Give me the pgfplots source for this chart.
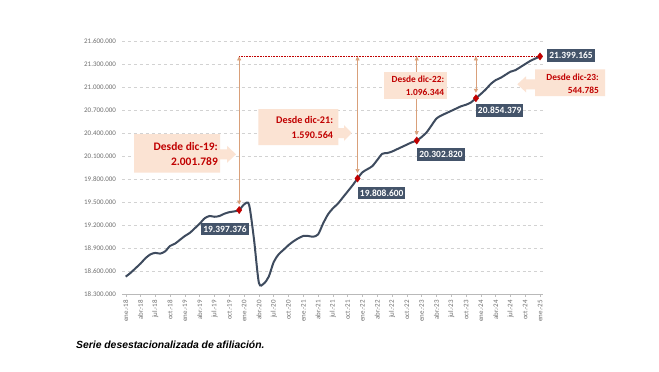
\documentclass[border=0pt]{standalone}
\usepackage{pgfplots}
\pgfplotsset{compat=1.18}
\usepackage{pgfplotstable}
\usepackage{fontspec}
\setmainfont{Carlito}
\newfontfamily\capfont{Liberation Sans}
\usetikzlibrary{arrows.meta}
\definecolor{linec}{HTML}{3E4B5E}
\definecolor{mark}{HTML}{C00000}
\definecolor{boxc}{HTML}{44546A}
\definecolor{peach}{HTML}{FBE3D3}
\definecolor{redt}{HTML}{C00000}
\definecolor{arrc}{HTML}{D9A07A}
\definecolor{tickc}{HTML}{6E6E6E}

\pgfplotstableread{
m v
0 18530000
1 18580000
2 18640000
3 18700000
4 18770000
5 18820000
6 18840000
7 18830000
8 18860000
9 18930000
10 18960000
11 19010000
12 19060000
13 19100000
14 19160000
15 19220000
16 19290000
17 19320000
18 19310000
19 19320000
20 19350000
21 19370000
22 19380000
23 19397376
24 19470000
25 19470000
26 19020000
27 18450000
28 18440000
29 18530000
30 18720000
31 18820000
32 18880000
33 18940000
34 18990000
35 19030000
36 19060000
37 19060000
38 19050000
39 19080000
40 19220000
41 19340000
42 19420000
43 19480000
44 19560000
45 19640000
46 19720000
47 19808600
48 19890000
49 19930000
50 19970000
51 20050000
52 20130000
53 20140000
54 20160000
55 20190000
56 20220000
57 20250000
58 20280000
59 20302820
60 20350000
61 20410000
62 20500000
63 20590000
64 20630000
65 20660000
66 20690000
67 20720000
68 20750000
69 20770000
70 20800000
71 20854379
72 20910000
73 20970000
74 21040000
75 21090000
76 21120000
77 21160000
78 21200000
79 21220000
80 21260000
81 21300000
82 21340000
83 21370000
84 21399165
}\afil

\pgfplotstableread{
m v
23 19397376
47 19808600
59 20302820
71 20854379
84 21399165
}\hitos

\begin{document}
\begin{tikzpicture}[x=1bp,y=1bp]
\path[use as bounding box, fill=white] (0,0) rectangle (659,371);
\begin{axis}[
  at={(122bp,76.7bp)}, anchor=south west,
  width=421bp, height=253.3bp, scale only axis,
  xmin=-0.75, xmax=84.6,
  ymin=18300000, ymax=21600000,
  scaled y ticks=false,
  clip=false,
  axis x line*=bottom, axis y line*=left,
  x axis line style={draw=gray!55, line width=0.6pt},
  y axis line style={draw=none},
  ytick={18300000,18600000,18900000,19200000,19500000,19800000,20100000,20400000,20700000,21000000,21300000,21600000},
  yticklabels={18.300.000,18.600.000,18.900.000,19.200.000,19.500.000,19.800.000,20.100.000,20.400.000,20.700.000,21.000.000,21.300.000,21.600.000},
  ytick style={draw=none},
  ymajorgrids,
  major grid style={dashed, draw=gray!35, line width=0.6pt},
  xtick={0,3,...,84},
  xticklabels={ene.-18,abr.-18,jul.-18,oct.-18,ene.-19,abr.-19,jul.-19,oct.-19,ene.-20,abr.-20,jul.-20,oct.-20,ene.-21,abr.-21,jul.-21,oct.-21,ene.-22,abr.-22,jul.-22,oct.-22,ene.-23,abr.-23,jul.-23,oct.-23,ene.-24,abr.-24,jul.-24,oct.-24,ene.-25},
  tick align=outside,
  major tick length=2.5pt,
  xtick style={draw=gray!50, line width=0.4pt},
  xticklabel style={rotate=90, anchor=east, font=\fontsize{7}{8}\selectfont, text=tickc},
  yticklabel style={font=\fontsize{7}{8}\selectfont, text=tickc},
]
\addplot[linec, line width=2bp, smooth, tension=0.45] table[x=m,y=v] {\afil};
% dotted reference line
\addplot[redt, densely dotted, line width=0.6pt] coordinates {(23,21399165) (84,21399165)};
% vertical arrows
\addplot[arrc, line width=0.7pt, {Triangle[width=4pt,length=4pt]}-{Triangle[width=4pt,length=4pt]}] coordinates {(23,19470000) (23,21399165)};
\addplot[arrc, line width=0.7pt, {Triangle[width=4pt,length=4pt]}-{Triangle[width=4pt,length=4pt]}] coordinates {(47,19880000) (47,21399165)};
\addplot[arrc, line width=0.7pt, {Triangle[width=4pt,length=4pt]}-{Triangle[width=4pt,length=4pt]}] coordinates {(59,20375000) (59,21399165)};
\addplot[arrc, line width=0.7pt, {Triangle[width=4pt,length=4pt]}-{Triangle[width=4pt,length=4pt]}] coordinates {(71,20925000) (71,21399165)};
\addplot[only marks, mark=diamond*, mark size=3.6pt, mark options={fill=mark, draw=mark}] table[x=m,y=v] {\hitos};
\end{axis}

% value labels
\tikzset{val/.style={fill=boxc, text=white, font=\bfseries\fontsize{9.5}{11}\selectfont, inner xsep=1.8bp, inner ysep=0pt, minimum height=12.5bp}}
\node[val] at (225,142) {19.397.376};
\node[val] at (381.7,178) {19.808.600};
\node[val] at (441,216.5) {20.302.820};
\node[val] at (499.7,260.3) {20.854.379};
\node[val] at (571,315.5) {21.399.165};

% callouts
\fill[peach] (134,237) -- (220,237) -- (220,221.7) -- (227,221.7) -- (227,225.2) -- (236,216.7) -- (227,208.2) -- (227,211.7) -- (220,211.7) -- (220,198.3) -- (134,198.3) -- cycle;
\node[anchor=east, align=right, text=redt, font=\bfseries\fontsize{11.5}{15}\selectfont, inner sep=0pt] at (218,216.8) {Desde dic-19:\\2.001.789};

\fill[peach] (258.3,262) -- (338.3,262) -- (338.3,243) -- (344,243) -- (344,246) -- (351.7,238) -- (344,230) -- (344,233) -- (338.3,233) -- (338.3,226) -- (258.3,226) -- cycle;
\node[anchor=east, align=right, text=redt, font=\bfseries\fontsize{10.2}{15}\selectfont, inner sep=0pt] at (333.3,243.5) {Desde dic-21:\\1.590.564};

\fill[peach] (384.3,299.3) rectangle (446.7,272);
\node[anchor=east, align=right, text=redt, font=\bfseries\fontsize{9.4}{13}\selectfont, inner sep=0pt] at (444.3,285.2) {Desde dic-22:\\1.096.344};

\fill[peach] (605,301.7) -- (535,301.7) -- (535,291.7) -- (526,291.7) -- (526,294.7) -- (517.3,286.7) -- (526,278.7) -- (526,281.7) -- (535,281.7) -- (535,275) -- (605,275) -- cycle;
\node[anchor=east, align=right, text=redt, font=\bfseries\fontsize{9.4}{13}\selectfont, inner sep=0pt] at (599,287.7) {Desde dic-23:\\544.785};

% caption
\node[anchor=west, inner sep=0pt, font=\capfont\bfseries\itshape\fontsize{10.4}{12}\selectfont] at (76,26) {Serie desestacionalizada de afiliación.};
\end{tikzpicture}
\end{document}
